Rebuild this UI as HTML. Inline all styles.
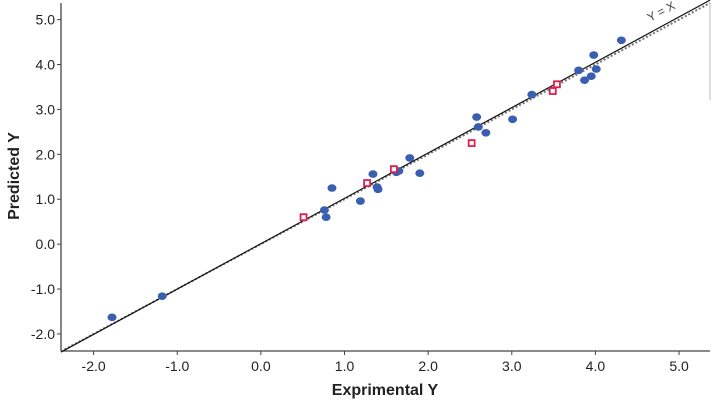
<!DOCTYPE html>
<html><head><meta charset="utf-8"><style>
html,body{margin:0;padding:0;background:#fff;}
svg{display:block;font-family:"Liberation Sans",Arial,sans-serif;}
</style></head><body>
<svg id="chart" width="715" height="403">
<g id="axes"></g>
<g id="marks"></g>
<text x="385" y="395" text-anchor="middle" font-size="16" font-weight="bold" fill="#222">Exprimental Y</text>
<text transform="translate(19,176) rotate(-90)" text-anchor="middle" font-size="16" font-weight="bold" fill="#222">Predicted Y</text>
</svg>
<script>
const xTicks=[-2,-1,0,1,2,3,4,5];
const yTicks=[-2,-1,0,1,2,3,4,5];
const trainX=[-1.78,-1.18,0.76,0.78,0.85,1.19,1.34,1.39,1.40,1.62,1.65,1.78,1.90,2.58,2.60,2.69,3.01,3.24,3.80,3.87,3.95,4.01,3.98,4.31];
const trainY=[-1.63,-1.16,0.76,0.60,1.25,0.96,1.56,1.27,1.22,1.60,1.63,1.92,1.58,2.83,2.61,2.48,2.78,3.33,3.87,3.65,3.74,3.90,4.21,4.54];
const testX=[0.51,1.27,1.59,2.52,3.49,3.54];
const testY=[0.60,1.36,1.67,2.25,3.41,3.56];
const fitSlope=1.01, fitIntercept=0.01;
const xMin=-2.39,xMax=5.37,yMin=-2.38,yMax=5.37;
const L=61,R=710,T=3,B=351;
function sx(v){return L+(v-xMin)/(xMax-xMin)*(R-L);}
function sy(v){return B-(v-yMin)/(yMax-yMin)*(B-T);}
const NS="http://www.w3.org/2000/svg";
const axes=document.getElementById('axes'),marks=document.getElementById('marks');
function mk(tag,attrs,parent){const e=document.createElementNS(NS,tag);for(const k in attrs)e.setAttribute(k,attrs[k]);parent.appendChild(e);return e;}
let a=mk('line',{x1:L,y1:T,x2:L,y2:B,stroke:'#444','stroke-width':1.3},axes);


a=mk('line',{x1:L,y1:B,x2:R,y2:B,stroke:'#444','stroke-width':1.3},axes);


a=mk('line',{x1:R,y1:T,x2:R,y2:100,stroke:'#bbb','stroke-width':1},axes);


xTicks.forEach(v=>{const x=sx(v);
 const t=mk('line',{x1:x,y1:B,x2:x,y2:B+4,stroke:'#444'},axes);
 
 
 const l=mk('text',{x:x,y:B+20,'text-anchor':'middle','font-size':14,fill:'#222'},axes);l.textContent=v.toFixed(1);
 
 });
yTicks.forEach(v=>{const y=sy(v);
 const t=mk('line',{x1:L-4,y1:y,x2:L,y2:y,stroke:'#444'},axes);
 
 
 const l=mk('text',{x:L-6,y:y+5,'text-anchor':'end','font-size':14,fill:'#222'},axes);l.textContent=v.toFixed(1);
 
 });
let d=mk('line',{x1:sx(xMin),y1:sy(xMin),x2:sx(xMax),y2:sy(xMax),stroke:'#777','stroke-width':2,'stroke-dasharray':'2,2'},marks);


let f=mk('line',{x1:sx(xMin),y1:sy(fitSlope*xMin+fitIntercept),x2:sx(xMax),y2:sy(fitSlope*xMax+fitIntercept),stroke:'#111','stroke-width':1.2},marks);


let lb=mk('text',{transform:'translate(650,22) rotate(-28)','font-size':12,fill:'#444'},marks);lb.textContent='Y = X';


trainX.forEach((v,i)=>{const c=mk('ellipse',{cx:sx(v),cy:sy(trainY[i]),rx:4.5,ry:3.8,fill:'#3a5fb0'},marks);
 
 });
testX.forEach((v,i)=>{const s=mk('rect',{x:sx(v)-3,y:sy(testY[i])-3,width:6,height:6,fill:'#fff',stroke:'#e0204a','stroke-width':1.8},marks);
 
 });
</script>
</body></html>
